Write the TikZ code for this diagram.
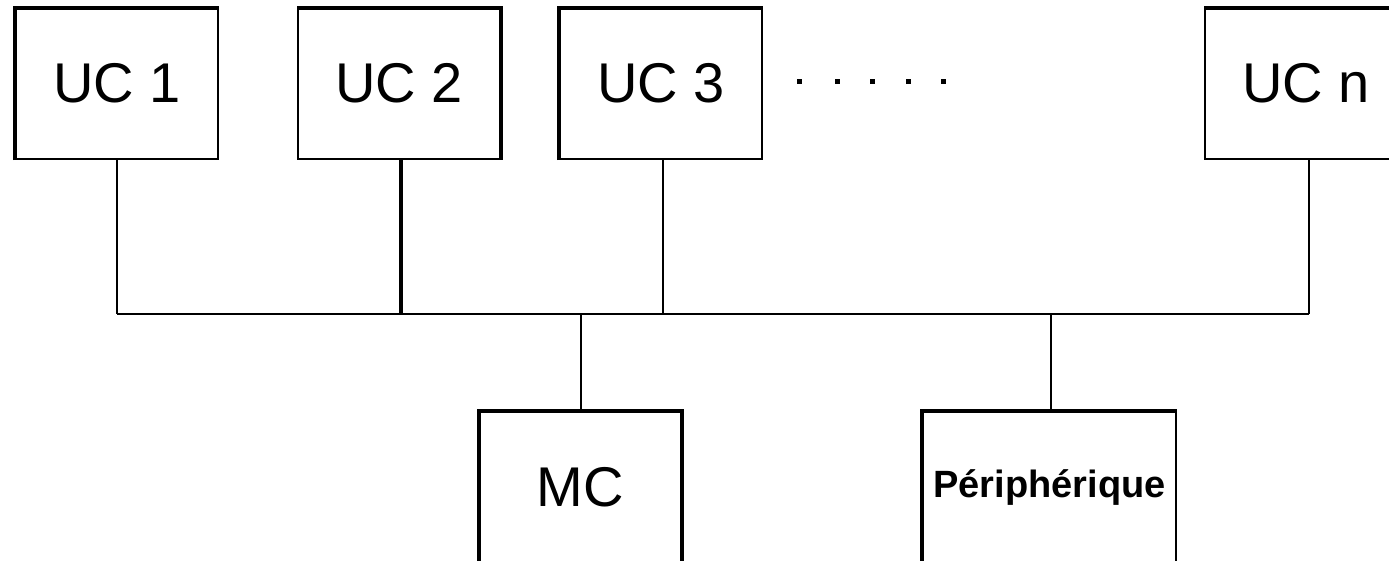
\documentclass[tikz,border=0pt]{standalone}
\usepackage{fontspec}
\setmainfont{Liberation Sans}
\tikzset{
  box/.style={draw, line width=2pt, minimum width=202pt, minimum height=150pt, inner sep=0pt, font=\fontsize{56}{60}\selectfont},
  thickedge/.style={line width=4pt, line cap=butt},
  wire/.style={line width=2pt},
  dotmark/.style={fill=black}
}
\begin{document}
\begin{tikzpicture}[x=1pt,y=-1pt]
\useasboundingbox (0,0) rectangle (1389,560);
\node[box] (uc1) at (117,84) {\raisebox{2pt}{UC 1}};
\node[box] (uc2) at (399,84) {\raisebox{2pt}{UC 2}};
\node[box] (uc3) at (661,84) {\raisebox{2pt}{UC 3}};
\node[box] (ucn) at (1306,84) {\raisebox{2pt}{UC n}};
\node[box, minimum width=201pt] (mc) at (580.5,487) {MC};
\node[box, minimum width=253pt, font=\fontsize{38}{40}\selectfont\bfseries] (per) at (1049.5,487) {\raisebox{2pt}{Périphérique}};
% thick edges
\draw[thickedge] (uc1.south west) -- (uc1.north west) -- (uc1.north east);
\draw[thickedge] (uc2.north west) -- (uc2.north east) -- (uc2.south east);
\draw[thickedge] (uc3.south west) -- (uc3.north west) -- (uc3.north east);
\draw[thickedge] (ucn.north west) -- (ucn.north east);
\draw[thickedge] (mc.south west) -- (mc.north west) -- (mc.north east) -- (mc.south east);
\draw[thickedge] (per.south west) -- (per.north west) -- (per.north east);
% bus
\coordinate (b1) at (uc1.south |- 0,314);
\coordinate (b2) at (401,314);
\coordinate (b3) at (663,314);
\coordinate (bn) at (1309,314);
\coordinate (bm) at (mc.north |- 0,314);
\coordinate (bp) at (1051,314);
\draw[wire] (uc1.south) -- (b1);
\draw[line width=3.5pt] (uc2.south -| b2) -- (b2);
\draw[wire] (uc3.south -| b3) -- (b3);
\draw[wire] (ucn.south -| bn) -- (bn);
\draw[wire] (b1) -- (bn);
\draw[wire] (mc.north) -- (bm);
\draw[wire] (per.north -| bp) -- (bp);
% dots
\foreach \x in {799,837,872,908,943}
  \fill[dotmark] (\x-2.5,78.5) rectangle (\x+2.5,83.5);
\end{tikzpicture}
\end{document}
